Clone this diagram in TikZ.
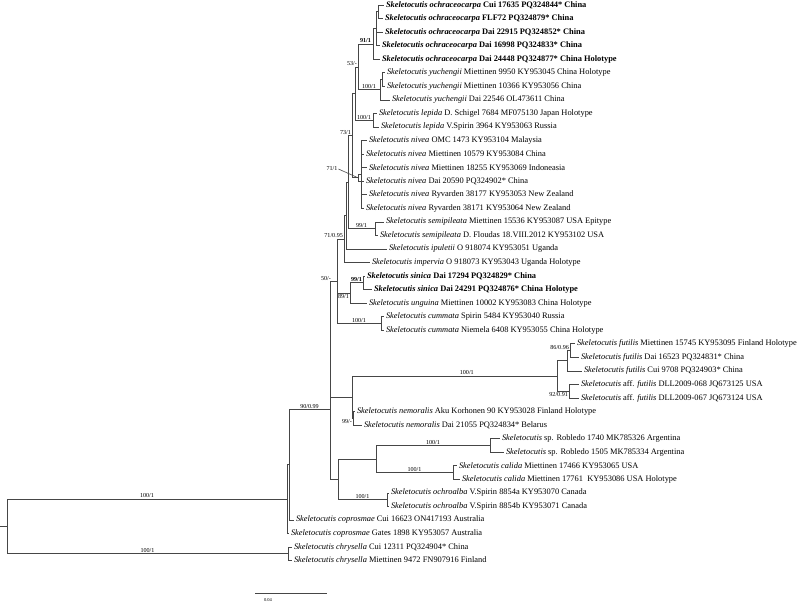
\documentclass[tikz,border=0pt]{standalone}
\usepackage{fontspec}
\setmainfont{Liberation Serif}
\usetikzlibrary{positioning}
\definecolor{branchGray}{RGB}{70,70,70}
\newcommand{\skel}[1]{\textit{Skeletocutis #1}}

\begin{document}
\begin{tikzpicture}[x=1pt, y=-1pt,
    branch/.style ={line width=0.6pt, draw=branchGray},
    leaf/.style   ={anchor=west, inner xsep=1.8pt, inner ysep=0pt, font=\fontsize{8.4}{9}\selectfont},
    newleaf/.style={leaf, font=\fontsize{8.4}{9}\selectfont\bfseries},
    support/.style={inner sep=0.8pt, font=\fontsize{6.1}{6.5}\selectfont},
    scaletext/.style={inner sep=0pt, font=\fontsize{4.5}{5}\selectfont},
]
\useasboundingbox (0,0) rectangle (800,603);

% =====================================================
% TAXA (tips)
% =====================================================
\node[newleaf] (t01) at (384,   5.00) {\skel{ochraceocarpa} Cui 17635 PQ324844* China};
\node[newleaf] (t02) at (383,  18.55) {\skel{ochraceocarpa} FLF72 PQ324879* China};
\node[newleaf] (t03) at (383,  32.10) {\skel{ochraceocarpa} Dai 22915 PQ324852* China};
\node[newleaf] (t04) at (380,  45.65) {\skel{ochraceocarpa} Dai 16998 PQ324833* China};
\node[newleaf] (t05) at (380,  59.20) {\skel{ochraceocarpa} Dai 24448 PQ324877* China Holotype};
\node[leaf]    (t06) at (385,  72.75) {\skel{yuchengii} Miettinen 9950 KY953045 China Holotype};
\node[leaf]    (t07) at (385,  86.30) {\skel{yuchengii} Miettinen 10366 KY953056 China};
\node[leaf]    (t08) at (390,  99.85) {\skel{yuchengii} Dai 22546 OL473611 China};
\node[leaf]    (t09) at (377, 113.40) {\skel{lepida} D. Schigel 7684 MF075130 Japan Holotype};
\node[leaf]    (t10) at (379, 126.95) {\skel{lepida} V.Spirin 3964 KY953063 Russia};
\node[leaf]    (t11) at (367, 140.50) {\skel{nivea} OMC 1473 KY953104 Malaysia};
\node[leaf]    (t12) at (364, 154.05) {\skel{nivea} Miettinen 10579 KY953084 China};
\node[leaf]    (t13) at (367, 167.60) {\skel{nivea} Miettinen 18255 KY953069 Indoneasia};
\node[leaf]    (t14) at (364, 181.15) {\skel{nivea} Dai 20590 PQ324902* China};
\node[leaf]    (t15) at (367, 194.70) {\skel{nivea} Ryvarden 38177 KY953053 New Zealand};
\node[leaf]    (t16) at (364, 208.25) {\skel{nivea} Ryvarden 38171 KY953064 New Zealand};
\node[leaf]    (t17) at (384, 221.80) {\skel{semipileata} Miettinen 15536 KY953087 USA Epitype};
\node[leaf]    (t18) at (378, 235.35) {\skel{semipileata} D. Floudas 18.VIII.2012 KY953102 USA};
\node[leaf]    (t19) at (387, 248.90) {\skel{ipuletii} O 918074 KY953051 Uganda};
\node[leaf]    (t20) at (370, 262.45) {\skel{impervia} O 918073 KY953043 Uganda Holotype};
\node[newleaf] (t21) at (365, 276.00) {\skel{sinica} Dai 17294 PQ324829* China};
\node[newleaf] (t22) at (372, 289.55) {\skel{sinica} Dai 24291 PQ324876* China Holotype};
\node[leaf]    (t23) at (367, 303.10) {\skel{unguina} Miettinen 10002 KY953083 China Holotype};
\node[leaf]    (t24) at (384, 316.65) {\skel{cummata} Spirin 5484 KY953040 Russia};
\node[leaf]    (t25) at (384, 330.20) {\skel{cummata} Niemela 6408 KY953055 China Holotype};
\node[leaf]    (t26) at (575, 343.75) {\skel{futilis} Miettinen 15745 KY953095 Finland Holotype};
\node[leaf]    (t27) at (579, 357.30) {\skel{futilis} Dai 16523 PQ324831* China};
\node[leaf]    (t28) at (582, 370.85) {\skel{futilis} Cui 9708 PQ324903* China};
\node[leaf]    (t29) at (579, 384.40) {\textit{Skeletocutis} aff. \textit{futilis} DLL2009-068 JQ673125 USA};
\node[leaf]    (t30) at (579, 397.95) {\textit{Skeletocutis} aff. \textit{futilis} DLL2009-067 JQ673124 USA};
\node[leaf]    (t31) at (355, 411.50) {\skel{nemoralis} Aku Korhonen 90 KY953028 Finland Holotype};
\node[leaf]    (t32) at (362, 425.05) {\skel{nemoralis} Dai 21055 PQ324834* Belarus};
\node[leaf]    (t33) at (500, 438.60) {\textit{Skeletocutis} sp. Robledo 1740 MK785326 Argentina};
\node[leaf]    (t34) at (504, 452.15) {\textit{Skeletocutis} sp. Robledo 1505 MK785334 Argentina};
\node[leaf]    (t35) at (457, 465.70) {\skel{calida} Miettinen 17466 KY953065 USA};
\node[leaf]    (t36) at (460, 479.25) {\skel{calida} Miettinen 17761 \ KY953086 USA Holotype};
\node[leaf]    (t37) at (389, 492.80) {\skel{ochroalba} V.Spirin 8854a KY953070 Canada};
\node[leaf]    (t38) at (389, 506.35) {\skel{ochroalba} V.Spirin 8854b KY953071 Canada};
\node[leaf]    (t39) at (294, 519.90) {\skel{coprosmae} Cui 16623 ON417193 Australia};
\node[leaf]    (t40) at (289, 533.45) {\skel{coprosmae} Gates 1898 KY953057 Australia};
\node[leaf]    (t41) at (292, 547.00) {\skel{chrysella} Cui 12311 PQ324904* China};
\node[leaf]    (t42) at (292, 560.55) {\skel{chrysella} Miettinen 9472 FN907916 Finland};

% =====================================================
% INTERNAL NODES
% =====================================================
\coordinate (nO3)  at (378,  11.78);
\coordinate (nO2)  at (376,  28.71);
\coordinate (nO)   at (373,  43.96);
\coordinate (nY2)  at (382,  79.53);
\coordinate (nY)   at (380,  89.69);
\coordinate (nN53) at (358,  66.82);
\coordinate (nLP)  at (373, 120.18);
\coordinate (nM)   at (355,  93.50);
\coordinate (nNV2) at (361, 174.38);
\coordinate (nNV)  at (358, 177.76);
\coordinate (nN73) at (352, 135.63);
\coordinate (nSP)  at (375, 228.58);
\coordinate (nP)   at (348, 182.10);
\coordinate (nA)   at (346, 215.50);
\coordinate (nN71) at (344, 238.98);
\coordinate (nSN)  at (363, 282.78);
\coordinate (nU)   at (350, 292.94);
\coordinate (nC)   at (381, 323.43);
\coordinate (nN50) at (337, 281.20);
\coordinate (nF1a) at (570, 350.53);
\coordinate (nF1)  at (567, 360.69);
\coordinate (nAF)  at (569, 391.18);
\coordinate (nFF)  at (557, 375.93);
\coordinate (nNM)  at (353, 418.28);
\coordinate (nF)   at (352, 397.10);
\coordinate (nK2)  at (330, 339.15);
\coordinate (nSPN) at (490, 445.38);
\coordinate (nCL)  at (453, 472.48);
\coordinate (nH)   at (376, 458.93);
\coordinate (nOC)  at (387, 499.58);
\coordinate (nG)   at (338, 479.25);
\coordinate (nK1)  at (330, 409.20);
\coordinate (nJ)   at (289, 464.55);
\coordinate (nI)   at (287, 499.00);
\coordinate (nCH)  at (288, 553.78);
\coordinate (nR)   at (7,   526.39);
\coordinate (root) at (0,   526.39);

% =====================================================
% BRANCHES
% =====================================================
% ochraceocarpa + yuchengii
\foreach \c in {t01,t02} \draw[branch] (nO3) |- (\c.west);
\foreach \c in {t03,t04} \draw[branch] (nO2) |- (\c.west);
\draw[branch] (nO2) |- (nO3);
\draw[branch] (nO)  |- (nO2);
\draw[branch] (nO)  |- (t05.west);
\draw[branch] (nN53) |- (nO) node[support, pos=0.75, above] (s91) {\textbf{91/1}};
\foreach \c in {t06,t07} \draw[branch] (nY2) |- (\c.west);
\draw[branch] (nY)  |- (nY2);
\draw[branch] (nY)  |- (t08.west);
\draw[branch] (nN53) |- (nY) node[support, pos=0.75, above] (s100y) {100/1};

% lepida
\foreach \c in {t09,t10} \draw[branch] (nLP) |- (\c.west);
\draw[branch] (nM) |- (nLP) node[support, pos=0.75, above] (s100l) {100/1};
\draw[branch] (nM) |- (nN53) node[support, pos=1, anchor=south east] (s53) {53/-};

% nivea
\foreach \c in {t11,t12,t13,t15,t16} \draw[branch] (nNV2) |- (\c.west);
\draw[branch] (nNV)  |- (nNV2);
\draw[branch] (nNV)  |- (t14.west);
\draw[branch] (nN73) |- (nNV);
\draw[branch] (nN73) |- (nM);
\draw[branch] (nP)   |- (nN73) node[support, pos=1, anchor=south east] (s73) {73/1};
\node[support] (s71) at (332, 169) {71/1};
\draw[branch] (s71.east) -- (nNV);

% semipileata, ipuletii, impervia
\foreach \c in {t17,t18} \draw[branch] (nSP) |- (\c.west);
\draw[branch] (nP)   |- (nSP) node[support, pos=0.75, above] (s99s) {99/1};
\draw[branch] (nA)   |- (nP);
\draw[branch] (nA)   |- (t19.west);
\draw[branch] (nN71) |- (nA);
\draw[branch] (nN71) |- (t20.west);
\draw[branch] (nN50) |- (nN71) node[support, pos=1, anchor=south east] (s71b) {71/0.95};

% sinica, unguina, cummata
\foreach \c in {t21,t22} \draw[branch] (nSN) |- (\c.west);
\draw[branch] (nU)   |- (nSN) node[support, pos=0.75, above] (s99n) {\textbf{99/1}};
\draw[branch] (nU)   |- (t23.west);
\draw[branch] (nN50) |- (nU) node[support, pos=0.75, below] (s89) {89/1};
\foreach \c in {t24,t25} \draw[branch] (nC) |- (\c.west);
\draw[branch] (nN50) |- (nC) node[support, pos=0.75, above] (s100c) {100/1};
\draw[branch] (nK2)  |- (nN50) node[support, pos=1, anchor=south east, xshift=-5pt] (s50) {50/-};

% futilis, nemoralis
\foreach \c in {t26,t27} \draw[branch] (nF1a) |- (\c.west);
\draw[branch] (nF1) |- (nF1a) node[support, pos=1, anchor=south east] (s86) {86/0.96};
\draw[branch] (nF1) |- (t28.west);
\foreach \c in {t29,t30} \draw[branch] (nAF) |- (\c.west);
\draw[branch] (nFF) |- (nF1);
\draw[branch] (nFF) |- (nAF) node[support, pos=1, anchor=north east] (s92) {92/0.91};
\draw[branch] (nF)  |- (nFF) node[support, pos=0.78, above] (s100f) {100/1};
\foreach \c in {t31,t32} \draw[branch] (nNM) |- (\c.west);
\draw[branch] (nF)  |- (nNM) node[support, pos=1, anchor=north east] (s99m) {99/-};
\draw[branch] (nK2) |- (nF);
\draw[branch] (nK1) |- (nK2);

% sp., calida, ochroalba
\foreach \c in {t33,t34} \draw[branch] (nSPN) |- (\c.west);
\draw[branch] (nH) |- (nSPN) node[support, pos=0.75, above] (s100sp) {100/1};
\foreach \c in {t35,t36} \draw[branch] (nCL) |- (\c.west);
\draw[branch] (nH) |- (nCL) node[support, pos=0.75, above] (s100ca) {100/1};
\draw[branch] (nG) |- (nH);
\foreach \c in {t37,t38} \draw[branch] (nOC) |- (\c.west);
\draw[branch] (nG) |- (nOC) node[support, pos=0.75, above] (s100o) {100/1};
\draw[branch] (nK1) |- (nG);

% coprosmae, chrysella, root
\draw[branch] (nJ) |- (nK1) node[support, pos=0.75, above] (s90) {90/0.99};
\draw[branch] (nJ) |- (t39.west);
\draw[branch] (nI) |- (nJ);
\draw[branch] (nI) |- (t40.west);
\foreach \c in {t41,t42} \draw[branch] (nCH) |- (\c.west);
\draw[branch] (nR) |- (nI)  node[support, pos=0.75, above] (s100r) {100/1};
\draw[branch] (nR) |- (nCH) node[support, pos=0.75, above] (s100h) {100/1};
\draw[branch] (root) -- (nR);

% =====================================================
% SCALE BAR
% =====================================================
\coordinate (sbL) at (255, 593);
\coordinate (sbR) at (327, 593);
\draw[branch] (sbL) -- (sbR);
\node[scaletext] (sbT) at (268, 600) {0.04};

\end{tikzpicture}
\end{document}
